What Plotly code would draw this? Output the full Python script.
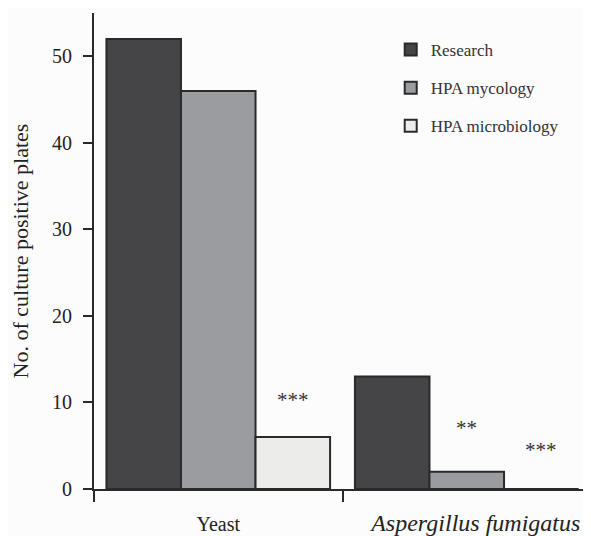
import plotly.graph_objects as go

categories = ["Yeast", "Aspergillus fumigatus"]
category_labels = ["Yeast",
                   "<span style=\"font-size:24px\">&nbsp;&nbsp;&nbsp;<i>Aspergillus fumigatus</i></span>"]
series_names = ["Research", "HPA mycology", "HPA microbiology"]
research = [52, 13]
hpa_mycology = [46, 2]
hpa_microbiology = [6, 0]
y_ticks = [0, 10, 20, 30, 40, 50]

sig_labels = ["***", "**", "***"]
sig_x = [0.3, 1.0, 1.3]
sig_y = [10.3, 7.1, 4.5]

colors = ["#454547", "#9b9c9f", "#ececea"]
serif = "Liberation Serif, Times New Roman, serif"

fig = go.Figure()
for name, vals, col in zip(series_names, [research, hpa_mycology, hpa_microbiology], colors):
    fig.add_trace(go.Bar(
        x=categories, y=vals, name=name, legendgroup=name,
        marker=dict(color=col, line=dict(color="#2a2a2a", width=2)),
    ))

for lab, xv, yv in zip(sig_labels, sig_x, sig_y):
    fig.add_annotation(x=xv, y=yv, text=lab, showarrow=False,
                       font=dict(family=serif, size=21, color="#333"),
                       xref="x", yref="y")

# the page's body has an 8px default margin, so the figure is sized to fill the rest
fig.update_layout(
    width=583, height=528,
    margin=dict(l=86, r=0, t=5, b=47),
    paper_bgcolor="#fcfcfc", plot_bgcolor="#fcfcfc",
    barmode="group", bargap=0.1, bargroupgap=0,
    font=dict(family=serif, size=20, color="#222"),
    showlegend=True,
    legend=dict(x=0.597, y=0.960, xanchor="left", yanchor="top",
                font=dict(family=serif, size=17, color="#333"),
                tracegroupgap=13, bgcolor="rgba(0,0,0,0)"),
    xaxis=dict(
        type="category", range=[-0.5, 1.5], tickmode="array",
        tickvals=categories, ticktext=category_labels,
        tickson="boundaries", ticks="outside", ticklen=11, tickwidth=2, tickcolor="#2a2a2a",
        showline=True, linecolor="#2a2a2a", linewidth=2, showgrid=False, zeroline=False,
        ticklabelstandoff=16, tickfont=dict(size=20), automargin=False,
    ),
    yaxis=dict(
        range=[0, 55], tickmode="array", tickvals=y_ticks,
        ticks="outside", ticklen=9, tickwidth=2, tickcolor="#2a2a2a",
        showline=True, linecolor="#2a2a2a", linewidth=2, showgrid=False, zeroline=False,
        ticklabelstandoff=7, tickfont=dict(size=20), automargin=False,
        title=dict(text="No. of culture positive plates", font=dict(size=22), standoff=20),
    ),
)

fig.write_html("out.html")
